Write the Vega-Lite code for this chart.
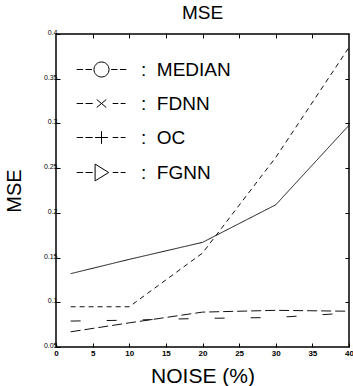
{
  "$schema": "https://vega.github.io/schema/vega-lite/v6.json",
  "width": 293,
  "height": 313,
  "autosize": {"type": "none"},
  "padding": {"left": 56, "top": 34, "right": 4, "bottom": 39},
  "background": "white",
  "title": {"text": "MSE", "fontSize": 19, "font": "Liberation Sans", "fontWeight": "normal", "offset": 6, "color": "black"},
  "config": {"view": {"stroke": "black", "strokeWidth": 1.5}, "font": "Liberation Sans"},
  "data": {
    "values": [
      {"noise": 2, "mse": 0.095, "method": "MEDIAN"},
      {"noise": 10, "mse": 0.095, "method": "MEDIAN"},
      {"noise": 20, "mse": 0.155, "method": "MEDIAN"},
      {"noise": 30, "mse": 0.262, "method": "MEDIAN"},
      {"noise": 40, "mse": 0.385, "method": "MEDIAN"},
      {"noise": 2, "mse": 0.132, "method": "FDNN"},
      {"noise": 10, "mse": 0.148, "method": "FDNN"},
      {"noise": 20, "mse": 0.167, "method": "FDNN"},
      {"noise": 30, "mse": 0.209, "method": "FDNN"},
      {"noise": 40, "mse": 0.298, "method": "FDNN"},
      {"noise": 2, "mse": 0.067, "method": "OC"},
      {"noise": 10, "mse": 0.077, "method": "OC"},
      {"noise": 20, "mse": 0.089, "method": "OC"},
      {"noise": 30, "mse": 0.091, "method": "OC"},
      {"noise": 40, "mse": 0.09, "method": "OC"},
      {"noise": 2, "mse": 0.079, "method": "FGNN"},
      {"noise": 10, "mse": 0.08, "method": "FGNN"},
      {"noise": 20, "mse": 0.082, "method": "FGNN"},
      {"noise": 30, "mse": 0.083, "method": "FGNN"},
      {"noise": 40, "mse": 0.088, "method": "FGNN"}
    ]
  },
  "resolve": {"axis": {"x": "independent", "y": "independent"}},
  "layer": [
    {
      "mark": {"type": "line", "strokeWidth": 1, "color": "#111"},
      "encoding": {
        "x": {
          "field": "noise", "type": "quantitative",
          "scale": {"domain": [0, 40], "nice": false},
          "axis": {
            "title": "NOISE (%)", "titleFontSize": 21, "titleFontWeight": "normal", "titleColor": "black", "titlePadding": 8,
            "values": [0, 5, 10, 15, 20, 25, 30, 35, 40],
            "labelFontSize": 8, "labelFontWeight": "bold", "labelColor": "black", "labelPadding": 6, "labelFlush": false,
            "tickSize": -4, "tickColor": "black", "domain": false, "grid": false
          }
        },
        "y": {
          "field": "mse", "type": "quantitative",
          "scale": {"domain": [0.05, 0.4], "nice": false, "zero": false},
          "axis": {
            "title": "MSE", "titleFontSize": 20, "titleFontWeight": "normal", "titleColor": "black", "titlePadding": 19,
            "values": [0.05, 0.1, 0.15, 0.2, 0.25, 0.3, 0.35, 0.4], "format": ".2~f",
            "labelFontSize": 7, "labelColor": "black", "labelPadding": 3, "labelFlush": false, "labelOffset": -1.5,
            "tickSize": -4, "tickColor": "black", "domain": false, "grid": false
          }
        },
        "strokeDash": {
          "field": "method", "type": "nominal",
          "scale": {"domain": ["FDNN", "MEDIAN", "OC", "FGNN"], "range": [[1, 0], [5, 4], [10, 4], [10, 26]]},
          "legend": null
        }
      }
    },
    {
      "transform": [{"filter": "datum.noise > 100"}],
      "mark": {"type": "point", "filled": false, "color": "black"},
      "encoding": {
        "x": {"field": "noise", "type": "quantitative", "axis": null},
        "y": {"field": "mse", "type": "quantitative", "axis": null},
        "shape": {
          "field": "method", "type": "nominal",
          "scale": {
            "domain": ["MEDIAN", "FDNN", "OC", "FGNN"],
            "range": [
              "M-3.1,0H-2.3M-2.0,0H-1.2M1.2,0H2.0M2.3,0H3.1M-0.94,0A0.94,0.94 0 1,1 0.94,0A0.94,0.94 0 1,1 -0.94,0",
              "M-3.1,0H-2.3M-2.0,0H-1.1M1.4,0H2.1M2.4,0H3.0M-0.6,-0.5L0.6,0.5M-0.6,0.5L0.6,-0.5",
              "M-3.1,0H-2.3M-2.0,0H-1.1M1.4,0H2.1M2.4,0H3.0M-0.8,0H0.8M0,-0.8V0.8",
              "M-3.1,0H-2.3M-2.0,0H-1.1M1.4,0H2.1M2.4,0H3.0M-0.8,-1.05L0.9,0L-0.8,1.05Z"
            ]
          },
          "legend": {
            "orient": "none", "legendX": 36, "legendY": 26, "title": null,
            "labelFontSize": 19, "labelFont": "Liberation Sans", "labelColor": "black",
            "symbolSize": 256, "symbolStrokeWidth": 1, "symbolStrokeColor": "black", "symbolFillColor": "transparent", "symbolOpacity": 1,
            "rowPadding": 14, "labelOffset": 30,
            "labelExpr": "':\u00a0\u00a0' + datum.label"
          }
        }
      }
    },
    {
      "transform": [{"filter": "datum.noise > 100"}],
      "mark": {"type": "point"},
      "encoding": {
        "x": {
          "field": "noise", "type": "quantitative",
          "axis": {"orient": "top", "title": null, "labels": false, "values": [5, 10, 15, 20, 25, 30, 35], "tickSize": -4, "tickColor": "black", "domain": false, "grid": false}
        },
        "y": {
          "field": "mse", "type": "quantitative",
          "axis": {"orient": "right", "title": null, "labels": false, "values": [0.1, 0.15, 0.2, 0.25, 0.3, 0.35], "tickSize": -4, "tickColor": "black", "domain": false, "grid": false}
        }
      }
    }
  ]
}
